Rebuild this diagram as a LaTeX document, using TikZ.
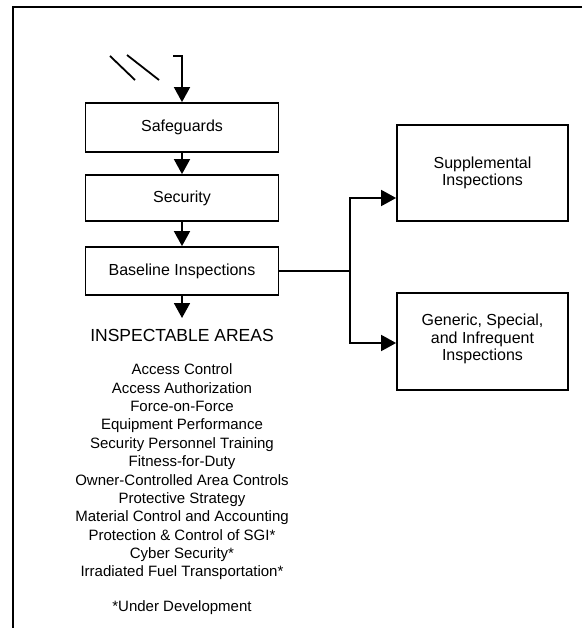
\documentclass[tikz,border=0pt]{standalone}
\usepackage{fontspec}
\setmainfont{Liberation Sans}
\usetikzlibrary{arrows.meta}
\begin{document}
\begin{tikzpicture}[x=1pt,y=-1pt,
  ln/.style={line width=1.8pt},
  arr/.style={ln,-{Triangle[length=15pt,width=16pt]}},
  boxnode/.style={draw,line width=1.8pt,minimum width=193pt,inner sep=0pt,font=\fontsize{16}{18}\selectfont,align=center},
  rbox/.style={draw,line width=1.8pt,minimum width=171pt,inner sep=0pt,font=\fontsize{16}{17.5}\selectfont,align=center},
  listtext/.style={inner sep=0pt,font=\fontsize{15}{18.36}\selectfont,align=center}]
\useasboundingbox (0,0) rectangle (582,628);
% frame
\draw[line width=2pt] (582,7) -- (13,7) -- (13,628);
% boxes
\node[boxnode,minimum height=49pt] (saf) at (182,127.5) {Safeguards};
\node[boxnode,minimum height=46pt] (sec) at (182,198) {Security};
\node[boxnode,minimum height=48pt] (base) at (182,271) {Baseline Inspections};
\node[rbox,minimum height=96pt] (sup) at (482.5,173) {Supplemental\\Inspections};
\node[rbox,minimum height=97pt] (gen) at (482.5,341.5) {Generic, Special,\\and Infrequent\\Inspections\\[-9pt]};
% input
\coordinate (in) at (173,56);
\draw[ln] (110,56) -- (135,80);
\draw[ln] (127,55) -- (159,80);
\draw[arr] (in) -| (saf.north);
\draw[arr] (saf.south) -- (sec.north);
\draw[arr] (sec.south) -- (base.north);
\coordinate (bd) at (182,318);
\draw[arr] (base.south) -- (bd);
% branches
\coordinate (j) at (350,271);
\draw[ln] (base.east) -- (j);
\draw[arr] (j) |- ([yshift=-25pt]sup.west);
\draw[arr] (j) |- ([yshift=-1.5pt]gen.west);
% texts
\node[inner sep=0pt,font=\fontsize{17.5}{20}\selectfont] (head) at (182,335) {INSPECTABLE AREAS};
\node[listtext] (list) at (182,472) {Access Control\\Access Authorization\\Force-on-Force\\Equipment Performance\\Security Personnel Training\\Fitness-for-Duty\\Owner-Controlled Area Controls\\Protective Strategy\\Material Control and Accounting\\Protection \& Control of SGI*\\Cyber Security*\\Irradiated Fuel Transportation*};
\node[listtext] (note) at (182,608) {*Under Development};
\end{tikzpicture}
\end{document}
